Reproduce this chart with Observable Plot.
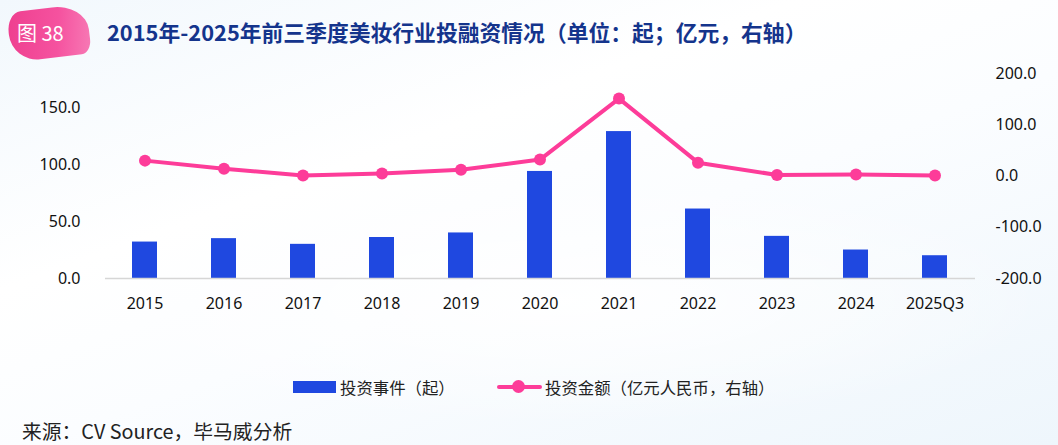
<!DOCTYPE html>
<html>
<head>
<meta charset="utf-8">
<script src="https://cdn.jsdelivr.net/npm/d3@7"></script>
<script src="https://cdn.jsdelivr.net/npm/@observablehq/plot@0.6"></script>
<style>
  html, body { margin: 0; padding: 0; }
  body { width: 1058px; height: 445px; overflow: hidden; font-family: "Noto Sans CJK SC", "Noto Sans", sans-serif; }
  #wrap { position: relative; width: 1058px; height: 445px;
    background:
      radial-gradient(ellipse 700px 180px at 560px 300px, rgba(255,255,255,0.95), rgba(255,255,255,0) 70%),
      linear-gradient(160deg, #f2f8fd 0%, #ffffff 35%, #fbfdff 55%, #eef6fc 100%);
  }
  #badge { position: absolute; left: 9px; top: 8px; width: 80px; height: 50px;
    background: linear-gradient(100deg, #ee3f8f 0%, #f5529f 60%, #f77ab5 100%);
    border-radius: 14px 34px 10px 28px / 20px 26px 14px 28px; transform: rotate(-7deg); }
  #badgeText { position: absolute; left: 17px; top: 19px; color: #fff; font-size: 20px; line-height: 28px; font-family: "Noto Sans CJK SC", sans-serif; }
  #title { position: absolute; left: 107px; top: 17px; color: #14348c; font-weight: bold; font-size: 21.8px; line-height: 30px; white-space: nowrap; }
  #chart { position: absolute; left: 0; top: 60px; }
  #legend { position: absolute; left: 293px; top: 374px; font-size: 16.4px; line-height: 26px; color: #222; white-space: nowrap; }
  .lg { position: absolute; top: 0; }
  #caption { position: absolute; left: 22px; top: 418px; font-size: 19.8px; line-height: 26px; color: #222; white-space: nowrap; }
</style>
</head>
<body>
<div id="wrap">
  <div id="badge"></div>
  <div id="badgeText">图 38</div>
  <div id="title">2015年-2025年前三季度美妆行业投融资情况（单位：起；亿元，右轴）</div>
  <div id="chart"></div>
  <div id="legend">
    <div class="lg" style="left:0;top:7px;width:43px;height:12px;background:#1f48e0"></div>
    <div class="lg" style="left:47px">投资事件（起）</div>
    <div class="lg" style="left:204px;top:11px;width:45px;height:4px;border-radius:2px;background:#fd3c99"></div>
    <div class="lg" style="left:219px;top:6px;width:13px;height:13px;border-radius:50%;background:#fd3c99"></div>
    <div class="lg" style="left:252px">投资金额（亿元人民币，右轴）</div>
  </div>
  <div id="caption">来源：CV Source，毕马威分析</div>
</div>
<script>
const categories = ["2015","2016","2017","2018","2019","2020","2021","2022","2023","2024","2025Q3"];
const dealCounts = [32, 35, 30, 36, 40, 94, 129, 61, 37, 25, 20];
const amounts = [30, 14, 1, 5, 12, 32, 151, 26, 2, 3, 1];
const leftTicks = [0, 50, 100, 150];
const rightTicks = [-200, -100, 0, 100, 200];

const leftMax = 180;
const rightMin = -200, rightMax = 200;
const toLeft = v => (v - rightMin) / (rightMax - rightMin) * leftMax;

const barData = categories.map((c, i) => ({cat: c, v: dealCounts[i]}));
const lineData = categories.map((c, i) => ({cat: c, v: toLeft(amounts[i])}));

const pink = "#fd3c99";
const blue = "#1f48e0";

const chart = Plot.plot({
  width: 1058,
  height: 260,
  marginTop: 13,
  marginBottom: 42,
  marginLeft: 105,
  marginRight: 83,
  style: {background: "transparent", fontFamily: "'Noto Sans', 'Noto Sans CJK SC', sans-serif", fontSize: "16px", color: "#111"},
  x: {domain: categories, paddingInner: 0.68, paddingOuter: 0.33, label: null},
  y: {domain: [0, leftMax], label: null},
  marks: [
    Plot.barY(barData, {x: "cat", y: "v", fill: blue}),
    Plot.ruleY([0], {stroke: "#d6d6d6", strokeWidth: 1.5}),
    Plot.line(lineData, {x: "cat", y: "v", stroke: pink, strokeWidth: 4, curve: "linear"}),
    Plot.dot(lineData, {x: "cat", y: "v", fill: pink, r: 6}),
    Plot.axisX({tickSize: 0, tickPadding: 19, fontSize: 16, label: null}),
    Plot.axisY({ticks: leftTicks, tickSize: 0, tickPadding: 25, tickFormat: d => d.toFixed(1), fontSize: 16, label: null}),
    Plot.axisY({anchor: "right", ticks: rightTicks.map(toLeft), tickSize: 0, tickPadding: 20, tickFormat: (d, i) => rightTicks[i].toFixed(1), fontSize: 16, label: null})
  ]
});
document.getElementById("chart").appendChild(chart);
</script>
</body>
</html>
